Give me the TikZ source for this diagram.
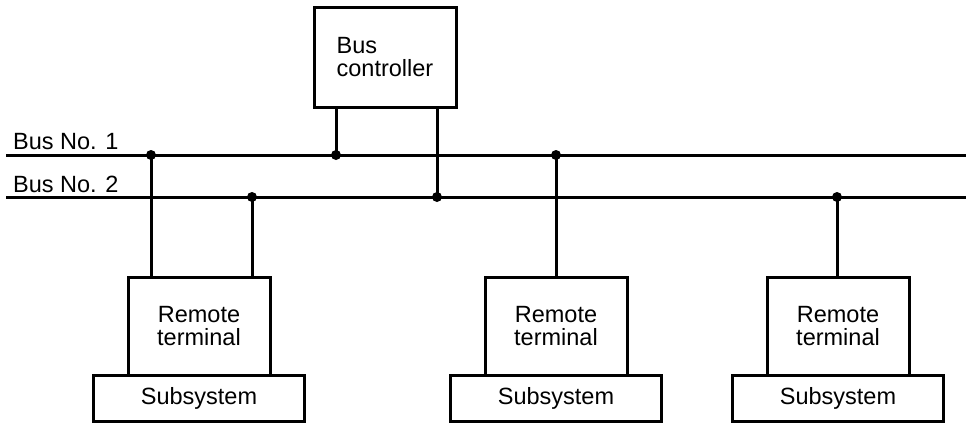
\documentclass[tikz,border=0pt]{standalone}
\usepackage{fontspec}
\setmainfont{Liberation Sans}
\usepackage{tikz}
\usetikzlibrary{positioning}
\newcommand{\boxfont}{\fontsize{23.5}{23}\selectfont}
\tikzset{
  ctrlbox/.style={rectangle,draw=black,line width=3pt,outer sep=0pt,
              minimum width=142pt,minimum height=100pt,align=left,font=\boxfont},
  rtbox/.style={rectangle,draw=black,line width=3pt,outer sep=0pt,
              minimum width=142pt,minimum height=98pt,align=center,font=\boxfont},
  subbox/.style={rectangle,draw=black,line width=3pt,outer sep=0pt,
              minimum width=211pt,minimum height=46pt,align=center,font=\boxfont},
  busline/.style={line width=3pt},
  tap/.style={line width=3pt},
  junction/.style={circle,fill=black,inner sep=0pt,minimum size=10pt},
  buslabel/.style={anchor=base west,inner sep=0pt,font=\boxfont},
}

\begin{document}
\begin{tikzpicture}[x=1pt,y=-1pt,node distance=0pt]
  \useasboundingbox (0,0) rectangle (966,423);

  % buses
  \coordinate (bus1w) at (6,155);
  \coordinate (bus1e) at (966,155);
  \coordinate (bus2w) at (6,197);
  \coordinate (bus2e) at (966,197);
  \draw[busline] (bus1w) -- (bus1e);
  \draw[busline] (bus2w) -- (bus2e);
  \node[buslabel] (lab1) at (13,149) {Bus No. 1};
  \node[buslabel] (lab2) at (13,192) {Bus No. 2};

  % controller and terminals
  \node[ctrlbox] (ctrl) at (385,57) {Bus\\controller};
  \node[rtbox] (rt1) at (199,326) {Remote\\terminal};
  \node[rtbox] (rt2) at (556,326) {Remote\\terminal};
  \node[rtbox] (rt3) at (838,326) {Remote\\terminal};
  \node[subbox,below=of rt1] (sub1) {Subsystem};
  \node[subbox,below=of rt2] (sub2) {Subsystem};
  \node[subbox,below=of rt3] (sub3) {Subsystem};

  % taps
  \node[junction] (c1) at (336,155) {};
  \node[junction] (c2) at (437,197) {};
  \node[junction] (t1a) at (151,155) {};
  \node[junction] (t1b) at (252,197) {};
  \node[junction] (t2) at (556,155) {};
  \node[junction] (t3) at (837,197) {};

  \draw[tap] (ctrl.south -| c1) -- (c1.center);
  \draw[tap] (ctrl.south -| c2) -- (c2.center);
  \draw[tap] (t1a.center) -- (t1a |- rt1.north);
  \draw[tap] (t1b.center) -- (t1b |- rt1.north);
  \draw[tap] (t2.center) -- (t2 |- rt2.north);
  \draw[tap] (t3.center) -- (t3 |- rt3.north);
\end{tikzpicture}
\end{document}
